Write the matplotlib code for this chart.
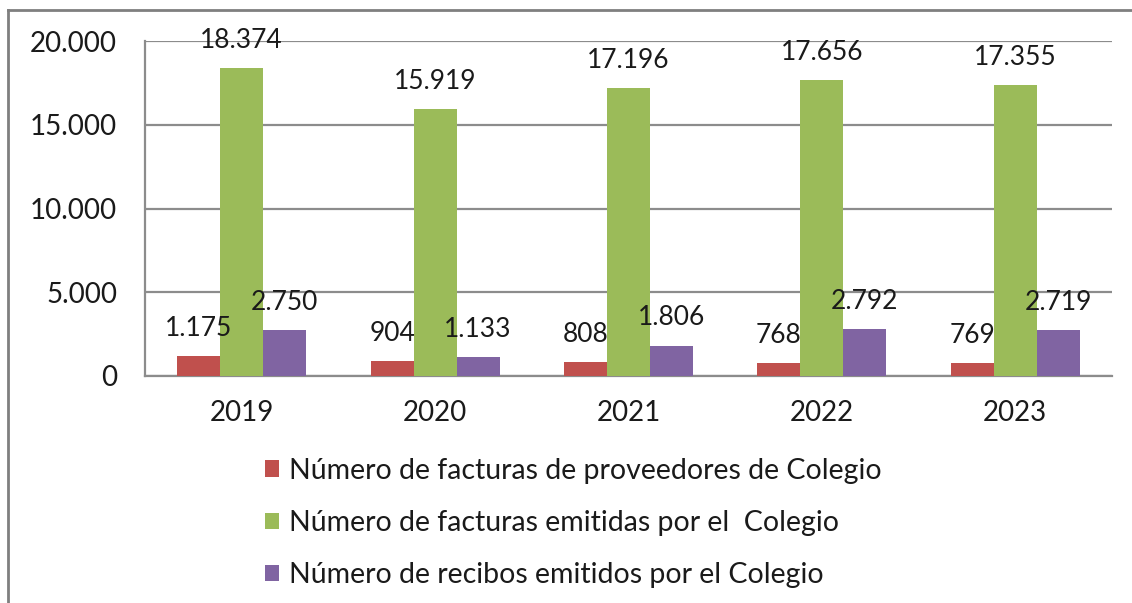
import numpy as np
import matplotlib
matplotlib.use("Agg")
import matplotlib.pyplot as plt
from matplotlib.lines import Line2D

plt.rcParams['font.family'] = ['Lato', 'DejaVu Sans']

years = ['2019', '2020', '2021', '2022', '2023']
proveedores = [1175, 904, 808, 768, 769]
emitidas = [18374, 15919, 17196, 17656, 17355]
recibos = [2750, 1133, 1806, 2792, 2719]
series_names = ['Número de facturas de proveedores de Colegio',
                'Número de facturas emitidas por el  Colegio',
                'Número de recibos emitidos por el Colegio']
colors = ['#C0504D', '#9BBB59', '#8064A2']
yticks = [0, 5000, 10000, 15000, 20000]

def fmt(v):
    return f"{v:,}".replace(",", ".")

fig = plt.figure(figsize=(11.32, 6.03), dpi=100)
ax = fig.add_axes([145/1132, 1 - 376/603, (1112 - 145)/1132, (376 - 41)/603])

x = np.arange(len(years))
w = 0.222
grid_c = '#8C8C8C'
for i, (vals, c, name) in enumerate(zip([proveedores, emitidas, recibos], colors, series_names)):
    pos = x + (i - 1) * w
    bars = ax.bar(pos, vals, width=w, color=c, label=name, zorder=3)
    for b, v in zip(bars, vals):
        ax.annotate(fmt(v), (b.get_x() + b.get_width()/2, v), xytext=(0, 11),
                    textcoords='offset points', ha='center', va='bottom',
                    fontsize=19, color='#1a1a1a', zorder=4)

ax.set_xlim(-0.5, len(years) - 0.5)
ax.set_ylim(0, 20000)
ax.set_yticks(yticks)
ax.set_yticklabels([fmt(v) for v in yticks])
ax.set_xticks(x)
ax.set_xticklabels(years)
ax.tick_params(axis='y', length=0, pad=20, labelsize=20, colors='#1a1a1a')
ax.tick_params(axis='x', length=0, pad=17, labelsize=20, colors='#1a1a1a')
ax.yaxis.grid(True, color=grid_c, linewidth=1.6, zorder=0)
for s in ['top', 'right']:
    ax.spines[s].set_visible(False)
for s in ['left', 'bottom']:
    ax.spines[s].set_color(grid_c)
    ax.spines[s].set_linewidth(1.6)

fig.legend(loc='upper left', bbox_to_anchor=(239/1132, 1 - 432/603), frameon=False,
           fontsize=20.5, handlelength=0.5, handleheight=0.5, handletextpad=0.35,
           labelspacing=0.92, labelcolor='#1a1a1a')

# outer frame (left and top edges visible)
fig.add_artist(Line2D([8/1132, 8/1132], [0, 1 - 10/603], transform=fig.transFigure,
                      color='#7f7f7f', linewidth=2))
fig.add_artist(Line2D([8/1132, 1], [1 - 10/603, 1 - 10/603], transform=fig.transFigure,
                      color='#7f7f7f', linewidth=2))

fig.savefig('out.png', dpi=100)
